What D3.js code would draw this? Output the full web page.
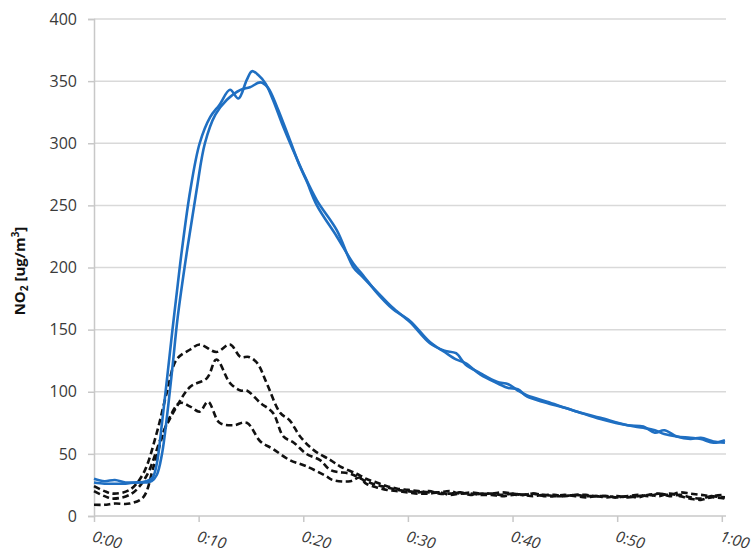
<!DOCTYPE html>
<html>
<head>
<meta charset="utf-8">
<script src="https://cdn.jsdelivr.net/npm/d3@7"></script>
<style>
  html, body { margin: 0; padding: 0; background: #fff; }
  svg { display: block; }
</style>
</head>
<body>
<svg id="chart" width="751" height="553"></svg>
<script>
// Time in minutes, NO2 concentration in ug/m3
const yTicks = [0, 50, 100, 150, 200, 250, 300, 350, 400];
const xTicks = [0, 10, 20, 30, 40, 50, 60];
const xTickLabels = ["0:00", "0:10", "0:20", "0:30", "0:40", "0:50", "1:00"];

// Two solid (blue) runs
const blue1Time = [0, 1, 2, 3, 4, 5, 5.6, 6.0, 6.5, 7.0, 7.5, 8.0, 8.4, 9.2, 10.1, 11.1, 12.0, 13.0, 13.8, 14.6, 15.1, 15.7, 16.4, 17.1, 18.1, 19.0, 20.0, 21.3, 23.2, 24.8, 25.6, 27.1, 28.5, 30.2, 32.1, 33.5, 34.6, 35.5, 36.9, 38.5, 39.6, 40.5, 41.4, 43.3, 45.8, 48.4, 51.0, 52.5, 53.6, 54.5, 55.7, 57.0, 58.0, 59.2, 60.3];
const blue1Value = [30, 28, 29, 27, 27, 28, 31, 42, 75, 112, 150, 186, 214, 262, 300, 321, 331, 343, 336, 351, 358, 355, 348, 335, 313, 295, 276, 254, 230, 200, 193, 180, 168, 156, 139, 133, 131, 122, 115, 108, 106, 101, 97, 92, 85, 79, 73, 71, 69, 66, 64, 63, 62, 59, 61];

const blue2Time = [0, 1, 2, 3, 4, 5, 5.5, 6.0, 6.5, 7.0, 7.5, 8.0, 8.9, 9.8, 10.6, 11.6, 12.7, 14.0, 14.9, 15.9, 16.6, 17.5, 18.7, 19.7, 20.3, 21.3, 23.2, 24.8, 25.6, 27.1, 28.5, 30.2, 32.1, 33.5, 34.6, 35.5, 36.9, 38.5, 39.6, 40.5, 41.4, 43.3, 45.8, 48.4, 51.0, 52.5, 53.6, 54.5, 55.7, 57.0, 58.0, 59.2, 60.3];
const blue2Value = [27, 26, 26, 26, 27, 27, 28, 33, 50, 82, 120, 160, 214, 262, 300, 323, 335, 343, 345, 349, 345, 329, 303, 281, 270, 250, 225, 203, 195, 179, 167, 157, 140, 132, 126, 123, 114, 107, 103, 102, 96, 91, 85, 78, 73, 72, 67, 69, 64, 62, 63, 60, 59];

// Three dashed (black) runs
const dashATime = [0, 1, 1.85, 3.4, 4.7, 6.0, 6.95, 7.9, 9.2, 10.1, 11.7, 13.0, 14.0, 14.8, 15.6, 16.5, 17.8, 18.7, 19.7, 21.0, 22.6, 23.5, 25.1, 26.0,
  27, 28, 29, 30, 31, 32, 33, 34, 35, 36, 37, 38, 39, 40, 41, 42, 43, 44, 45, 46, 47, 48, 49, 50, 51, 52, 53, 54, 55, 56, 57, 58, 59, 60.3];
const dashAValue = [24, 20, 18, 21, 34, 67, 99, 126, 134, 138, 132, 138, 128, 128, 123, 107, 83, 77, 64, 53, 45, 40, 34, 30,
  27, 24, 22, 21, 20, 19, 19, 20, 18, 19, 18, 18, 19, 18, 17, 18, 17, 17, 16, 17, 17, 16, 16, 15, 16, 17, 16, 18, 17, 19, 18, 17, 16, 15];

const dashBTime = [0, 1, 1.85, 3.6, 5.0, 6.6, 7.9, 9.2, 10.8, 11.7, 13.0, 14.0, 14.6, 15.9, 17.1, 18.1, 19.1, 20.3, 21.6, 22.6, 24.5, 25.3, 26.0,
  27, 28, 29, 30, 31, 32, 33, 34, 35, 36, 37, 38, 39, 40, 41, 42, 43, 44, 45, 46, 47, 48, 49, 50, 51, 52, 53, 54, 55, 56, 57, 58, 59, 60.3];
const dashBValue = [20, 16, 14, 18, 32, 67, 88, 104, 111, 126, 107, 101, 101, 91, 83, 64, 59, 50, 45, 37, 34, 31, 28,
  25, 23, 21, 20, 19, 20, 18, 18, 19, 17, 18, 18, 17, 18, 17, 16, 17, 16, 16, 17, 16, 16, 15, 16, 15, 16, 17, 18, 16, 17, 15, 14, 16, 17];

const dashCTime = [0, 1, 2, 3.4, 4.7, 5.7, 7.0, 8.2, 9.2, 10.1, 10.9, 12.0, 13.3, 14.6, 15.9, 17.1, 18.7, 20.3, 22.2, 22.8, 24.5, 25.4, 26.0,
  27, 28, 29, 30, 31, 32, 33, 34, 35, 36, 37, 38, 39, 40, 41, 42, 43, 44, 45, 46, 47, 48, 49, 50, 51, 52, 53, 54, 55, 56, 57, 58, 59, 60.3];
const dashCValue = [9, 9, 10, 10, 15, 40, 75, 91, 88, 84, 92, 75, 73, 75, 60, 54, 45, 40, 32, 29, 28, 31, 26,
  23, 21, 20, 19, 18, 18, 19, 17, 18, 18, 17, 17, 16, 17, 17, 18, 16, 16, 17, 16, 15, 16, 16, 15, 16, 15, 17, 16, 18, 16, 14, 13, 15, 14];

const svg = d3.select("#chart");
const plotLeft = 94, plotRight = 726, plotTop = 19, plotBottom = 516;

const x = d3.scaleLinear().domain([0, 60.4]).range([plotLeft, plotRight]);
const y = d3.scaleLinear().domain([0, 400]).range([plotBottom, plotTop]);

const font = "'Open Sans', 'Liberation Sans', sans-serif";

// horizontal grid
svg.append("g")
  .selectAll("line")
  .data(yTicks.filter(d => d > 0))
  .join("line")
  .attr("x1", plotLeft).attr("x2", plotRight)
  .attr("y1", d => y(d)).attr("y2", d => y(d))
  .attr("stroke", "#d9d9d9").attr("stroke-width", 1.5);

// y axis
const yAxis = svg.append("g")
  .attr("transform", `translate(${plotLeft},0)`)
  .call(d3.axisLeft(y).tickValues(yTicks).tickSize(6).tickPadding(11).tickFormat(d3.format("d")));
yAxis.select(".domain").attr("stroke", "#c8c8c8").attr("stroke-width", 1.5);
yAxis.selectAll(".tick line").attr("stroke", "#c8c8c8").attr("stroke-width", 1.5);
yAxis.selectAll(".tick text")
  .attr("font-family", font).attr("font-size", 16).attr("fill", "#3a3a3a");

// x axis
const xAxis = svg.append("g")
  .attr("transform", `translate(0,${plotBottom})`)
  .call(d3.axisBottom(x).tickValues(xTicks).tickSize(6).tickFormat((d, i) => xTickLabels[i]));
xAxis.select(".domain").attr("stroke", "#c8c8c8").attr("stroke-width", 1.5)
  .attr("d", `M${plotLeft},0H${plotRight}`);
xAxis.selectAll(".tick line").attr("stroke", "#c8c8c8").attr("stroke-width", 1.5);
xAxis.selectAll(".tick text")
  .attr("font-family", font).attr("font-size", 15.5).attr("font-style", "italic")
  .attr("fill", "#3a3a3a")
  .attr("text-anchor", "start")
  .attr("dy", null)
  .attr("y", 0)
  .attr("transform", "translate(-3,25) rotate(16)");

// y axis title
const title = svg.append("text")
  .attr("transform", "translate(25,271) rotate(-90)")
  .attr("text-anchor", "middle")
  .attr("font-family", font).attr("font-size", 15).attr("font-weight", "bold")
  .attr("fill", "#111");
title.append("tspan").text("NO");
title.append("tspan").attr("font-size", 10).attr("dy", 3).text("2");
title.append("tspan").attr("dy", -3).text(" [ug/m");
title.append("tspan").attr("font-size", 10).attr("dy", -6).text("3");
title.append("tspan").attr("dy", 6).text("]");

const line = d3.line()
  .x(d => x(d[0]))
  .y(d => y(d[1]))
  .curve(d3.curveCatmullRom.alpha(0.5));

const zip = (t, v) => t.map((tt, i) => [tt, v[i]]);

const dashed = [
  zip(dashCTime, dashCValue),
  zip(dashBTime, dashBValue),
  zip(dashATime, dashAValue)
];
svg.append("g").selectAll("path")
  .data(dashed)
  .join("path")
  .attr("d", line)
  .attr("fill", "none")
  .attr("stroke", "#111")
  .attr("stroke-width", 2.6)
  .attr("stroke-dasharray", "6.5,3.5");

const solid = [
  zip(blue2Time, blue2Value),
  zip(blue1Time, blue1Value)
];
svg.append("g").selectAll("path")
  .data(solid)
  .join("path")
  .attr("d", line)
  .attr("fill", "none")
  .attr("stroke", "#1f6fc2")
  .attr("stroke-width", 2.6)
  .attr("stroke-linejoin", "round");
</script>
</body>
</html>
